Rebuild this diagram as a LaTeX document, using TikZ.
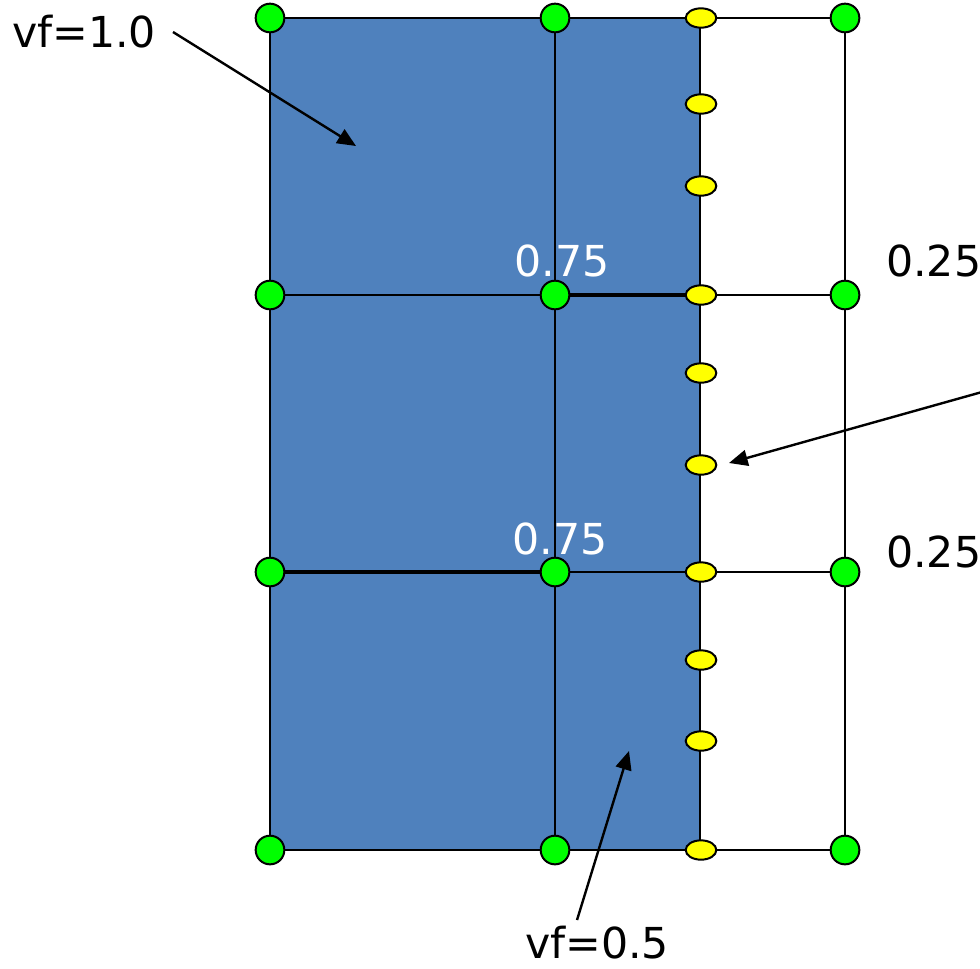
\documentclass[tikz,border=0pt]{standalone}
\usepackage{fontspec}
\setmainfont{DejaVu Sans}
\usetikzlibrary{arrows.meta,shapes.geometric}
\definecolor{cellblue}{HTML}{4F81BD}
\definecolor{dotgreen}{HTML}{00FF00}
\definecolor{dotyellow}{HTML}{FFFF00}
\tikzset{
  gridline/.style={draw=black,line width=1.5pt},
  heavyline/.style={draw=black,line width=2.4pt},
  gdot/.style={circle,draw=black,line width=1.5pt,fill=dotgreen,minimum size=21.5pt,inner sep=0pt},
  ydot/.style={ellipse,draw=black,line width=1.5pt,fill=dotyellow,minimum width=23pt,minimum height=14.5pt,inner sep=0pt},
  lbl/.style={font=\fontsize{32}{38}\selectfont,inner sep=0pt},
  pointer/.style={draw=black,line width=1.8pt,-{Triangle[length=14pt,width=12pt]}}
}
\begin{document}
\begin{tikzpicture}[x=0.75pt,y=-0.75pt]
\useasboundingbox (0,0) rectangle (980,968);
% grid coordinates
\foreach \c/\x in {a/270,b/555,c/700,d/845}{
  \foreach \r/\y in {1/18,2/295,3/572,4/850}{
    \coordinate (\c\r) at (\x,\y);
  }
}
\fill[cellblue] (a1) rectangle (c4);
\foreach \r in {1,2,3,4}{\draw[gridline] (a\r) -- (d\r);}
\foreach \c in {a,b,c,d}{\draw[gridline] (\c1) -- (\c4);}
\draw[heavyline] (b2) -- (c2);
\draw[heavyline] (a3) -- (b3);
% green nodes
\foreach \c in {a,b,d}{
  \foreach \r in {1,2,3,4}{
    \node[gdot] (g\c\r) at (\c\r) {};
  }
}
% yellow nodes on the interface column
\foreach \i/\y in {1/18,2/104,3/186,4/295,5/373,6/465,7/572,8/660,9/741,10/850}{
  \node[ydot] (y\i) at (701,\y) {};
}
% labels
\node[lbl] (vfone) at (84,32) {vf=1.0};
\node[lbl] (vfhalf) at (597,943) {vf=0.5};
\node[lbl,text=white] (topq) at (562,261) {0.75};
\node[lbl,text=white] (midq) at (560,539) {0.75};
\node[lbl,anchor=west] (topr) at (886,261) {0.25};
\node[lbl,anchor=west] (midr) at (886,552) {0.25};
% pointer ends
\coordinate (p1s) at (173,32);
\coordinate (p1e) at (356,146);
\coordinate (p2s) at (982,392);
\coordinate (p2e) at (729,463);
\coordinate (p3s) at (577,920);
\coordinate (p3e) at (629,751);
\draw[pointer] (p1s) -- (p1e);
\draw[pointer] (p2s) -- (p2e);
\draw[pointer] (p3s) -- (p3e);
\end{tikzpicture}
\end{document}
